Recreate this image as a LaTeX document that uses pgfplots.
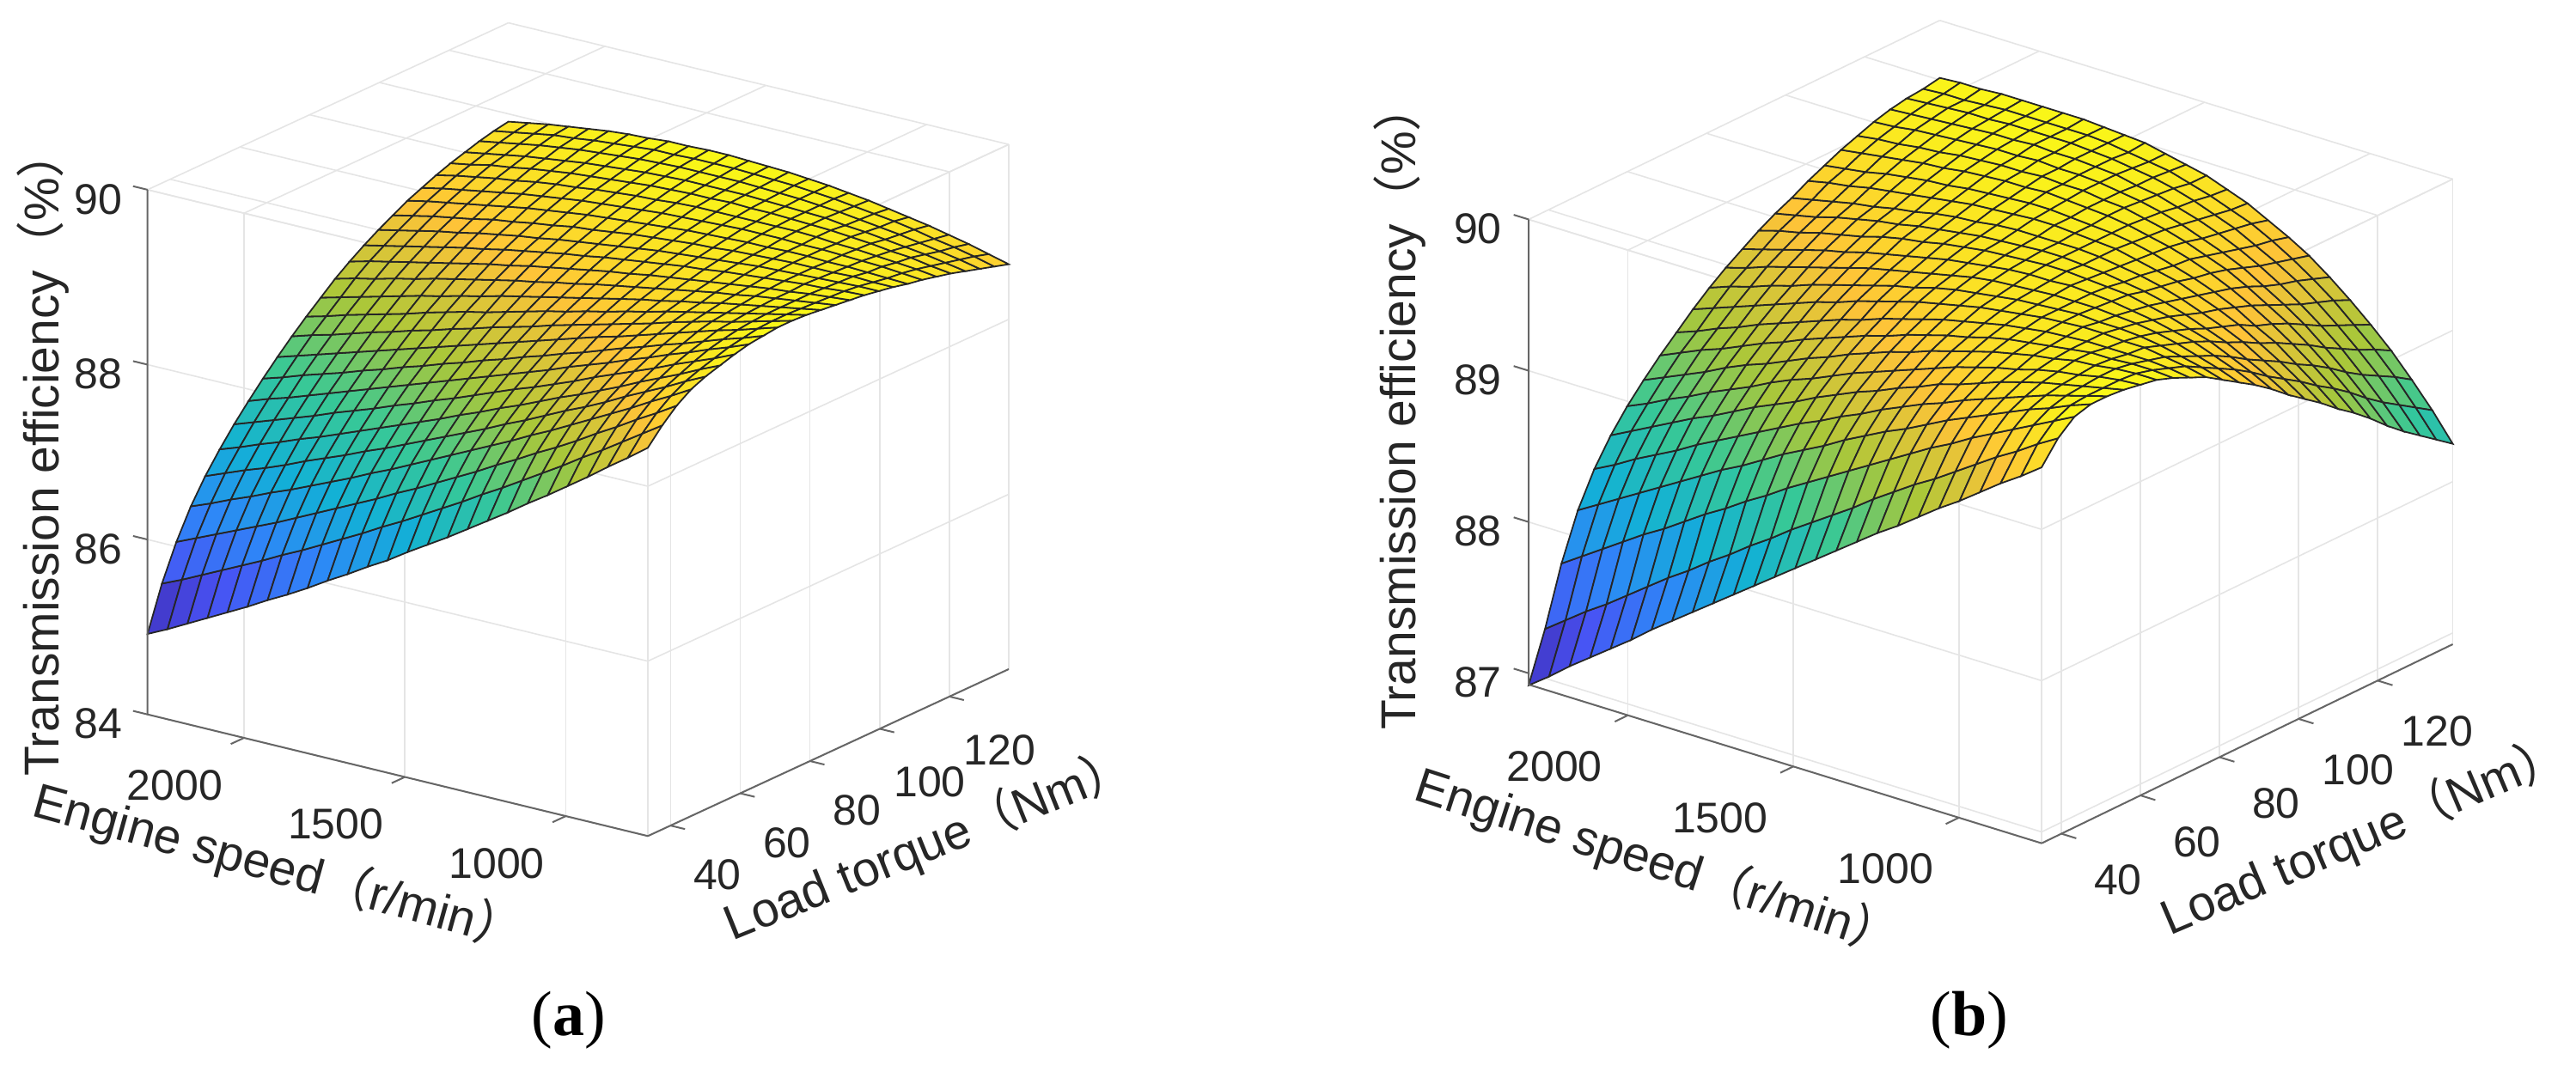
\documentclass[border=0pt]{standalone}
\usepackage{pgfplots}
\pgfplotsset{compat=1.18}
\usepackage{fontspec}
\setmainfont{Liberation Sans}
\newfontfamily\cjk{Noto Sans CJK SC}
\newfontfamily\tnr{Liberation Serif}
\tikzset{axl/.style={black!60,line width=1pt}}
\pgfplotsset{
 colormap={parulax}{rgb255=(62,38,168) rgb255=(72,82,244) rgb255=(46,135,247) rgb255=(18,177,214) rgb255=(55,200,151) rgb255=(171,199,57) rgb255=(254,195,56) rgb255=(249,251,21)},
 myax/.style={
  clip=false,
  grid=major, grid style={black!10,line width=0.8pt},
  axis line style={black!10,line width=0.8pt},
  tick style={draw=none},
  major tick length=9pt, tick align=outside,
  /pgf/number format/assume math mode=true,
  /pgf/number format/set thousands separator={},
  tick label style={font=\fontsize{25}{25}\selectfont,text=black!85},
  label style={font=\fontsize{28.5}{30}\selectfont,text=black!85},
  xtick={1000,1500,2000}, ytick={40,60,80,100,120},
  colormap name=parulax,
 },
 mysurf/.style={surf,shader=faceted,faceted color=black!85,line width=0.9pt,point meta=z},
}
\begin{document}
\begin{tikzpicture}
\path[use as bounding box] (0,0) rectangle (1499pt,620.5pt);
\begin{axis}[myax,at={(85.85pt,133.85pt)},anchor=south west,
 x={(-0.18723pt,0.04553pt)},y={(2.0290pt,0.9387pt)},z={(0pt,50.9pt)},
 xmin=745,xmax=2300,ymin=33.5,ymax=137,zmin=84,zmax=90,ztick={84,86,88,90},
 xticklabel style={xshift=-21pt,yshift=-6.5pt},
 yticklabel style={xshift=6.7pt,yshift=-11.5pt},
 zticklabel style={xshift=-3pt},
 xlabel={Engine speed{\cjk（}r/min{\cjk）}},
 ylabel={Load torque{\cjk（}Nm{\cjk）}},
 zlabel={Transmission efficiency{\cjk（}\%{\cjk）}},
 xlabel style={at={(axis description cs:0.152,-0.0388)},anchor=center,rotate=-15.5},
 ylabel style={at={(axis description cs:0.907,-0.011)},anchor=center,rotate=22},
 zlabel style={at={(axis description cs:-0.1214,0.4714)},anchor=center,rotate=0},
]
\addplot3[mysurf,mesh/rows=26,mesh/cols=26] table[header=false,x expr={2300-mod(\coordindex,26)*62.2},y expr={33.5+floor((\coordindex+0.5)/26)*4.14},z index=0]{
84.92
85.03
85.15
85.27
85.39
85.51
85.64
85.76
85.89
86.03
86.16
86.30
86.43
86.58
86.72
86.86
87.01
87.16
87.31
87.47
87.62
87.78
87.94
88.11
88.27
88.44
85.42
85.52
85.63
85.74
85.85
85.96
86.08
86.19
86.31
86.43
86.55
86.68
86.80
86.93
87.06
87.19
87.33
87.46
87.60
87.74
87.88
88.03
88.17
88.32
88.47
88.62
85.82
85.92
86.02
86.12
86.22
86.32
86.43
86.54
86.65
86.76
86.87
86.99
87.10
87.22
87.34
87.46
87.59
87.71
87.84
87.96
88.09
88.23
88.36
88.50
88.63
88.77
86.15
86.24
86.34
86.43
86.53
86.62
86.72
86.82
86.92
87.03
87.13
87.24
87.35
87.46
87.57
87.68
87.79
87.91
88.02
88.14
88.26
88.38
88.50
88.63
88.75
88.88
86.42
86.51
86.60
86.68
86.77
86.87
86.96
87.05
87.15
87.24
87.34
87.44
87.54
87.64
87.74
87.85
87.95
88.06
88.17
88.27
88.38
88.50
88.61
88.72
88.84
88.95
86.65
86.73
86.82
86.90
86.99
87.07
87.16
87.25
87.34
87.43
87.52
87.61
87.71
87.80
87.90
87.99
88.09
88.19
88.28
88.38
88.48
88.59
88.69
88.79
88.90
89.00
86.86
86.94
87.02
87.10
87.18
87.27
87.35
87.43
87.52
87.60
87.69
87.77
87.86
87.95
88.04
88.12
88.21
88.30
88.40
88.49
88.58
88.67
88.77
88.86
88.95
89.05
87.05
87.13
87.20
87.28
87.36
87.44
87.52
87.60
87.68
87.76
87.84
87.92
88.00
88.08
88.16
88.24
88.33
88.41
88.49
88.58
88.66
88.75
88.83
88.92
89.00
89.09
87.23
87.30
87.38
87.45
87.52
87.60
87.67
87.75
87.82
87.90
87.97
88.05
88.12
88.20
88.27
88.35
88.42
88.50
88.58
88.65
88.73
88.80
88.88
88.96
89.03
89.11
87.40
87.47
87.54
87.61
87.68
87.75
87.82
87.89
87.96
88.03
88.10
88.17
88.24
88.31
88.38
88.45
88.52
88.58
88.65
88.72
88.79
88.86
88.93
88.99
89.06
89.13
87.56
87.63
87.69
87.76
87.83
87.89
87.96
88.02
88.09
88.15
88.22
88.28
88.34
88.41
88.47
88.53
88.59
88.65
88.71
88.78
88.84
88.90
88.95
89.01
89.07
89.13
87.71
87.77
87.84
87.90
87.96
88.02
88.09
88.15
88.21
88.26
88.32
88.38
88.44
88.49
88.55
88.60
88.66
88.71
88.77
88.82
88.87
88.92
88.97
89.02
89.07
89.12
87.85
87.91
87.97
88.03
88.09
88.15
88.20
88.26
88.31
88.37
88.42
88.47
88.52
88.57
88.62
88.67
88.72
88.76
88.81
88.85
88.90
88.94
88.98
89.02
89.06
89.10
87.99
88.05
88.10
88.16
88.21
88.27
88.32
88.37
88.42
88.47
88.51
88.56
88.60
88.65
88.69
88.73
88.77
88.81
88.85
88.89
88.92
88.96
88.99
89.02
89.05
89.08
88.11
88.17
88.22
88.27
88.32
88.37
88.42
88.47
88.51
88.56
88.60
88.64
88.68
88.72
88.75
88.79
88.82
88.85
88.88
88.91
88.94
88.97
88.99
89.02
89.04
89.06
88.22
88.27
88.32
88.37
88.42
88.47
88.51
88.56
88.60
88.64
88.68
88.71
88.75
88.78
88.81
88.84
88.87
88.89
88.92
88.94
88.96
88.98
89.00
89.01
89.03
89.04
88.32
88.37
88.42
88.47
88.51
88.56
88.60
88.64
88.67
88.71
88.74
88.77
88.80
88.83
88.86
88.88
88.90
88.92
88.94
88.96
88.97
88.98
88.99
89.00
89.01
89.01
88.41
88.46
88.51
88.55
88.59
88.64
88.67
88.71
88.74
88.78
88.80
88.83
88.86
88.88
88.90
88.92
88.93
88.95
88.96
88.97
88.98
88.98
88.98
88.99
88.98
88.98
88.50
88.55
88.59
88.63
88.67
88.71
88.75
88.78
88.81
88.84
88.86
88.88
88.90
88.92
88.94
88.95
88.96
88.97
88.97
88.98
88.98
88.97
88.97
88.96
88.95
88.94
88.57
88.62
88.66
88.70
88.74
88.78
88.81
88.84
88.87
88.89
88.91
88.93
88.95
88.96
88.97
88.98
88.99
88.99
88.99
88.98
88.98
88.97
88.96
88.95
88.93
88.91
88.64
88.69
88.73
88.77
88.80
88.84
88.87
88.89
88.92
88.94
88.96
88.97
88.99
89.00
89.00
89.00
89.00
89.00
89.00
88.99
88.97
88.96
88.94
88.92
88.90
88.87
88.70
88.74
88.79
88.82
88.86
88.89
88.92
88.94
88.96
88.98
89.00
89.01
89.02
89.02
89.03
89.02
89.02
89.01
89.00
88.99
88.97
88.95
88.92
88.90
88.86
88.83
88.75
88.79
88.83
88.87
88.90
88.93
88.96
88.98
89.00
89.02
89.03
89.04
89.04
89.04
89.04
89.03
89.02
89.01
89.00
88.97
88.95
88.92
88.89
88.86
88.82
88.78
88.80
88.84
88.88
88.92
88.95
88.98
89.00
89.02
89.04
89.05
89.06
89.06
89.06
89.06
89.05
89.04
89.03
89.01
88.99
88.96
88.93
88.90
88.86
88.82
88.78
88.73
88.84
88.88
88.92
88.96
88.98
89.01
89.03
89.05
89.07
89.07
89.08
89.08
89.08
89.07
89.06
89.05
89.03
89.01
88.98
88.95
88.92
88.88
88.83
88.79
88.74
88.68
88.87
88.91
88.95
88.98
89.01
89.04
89.06
89.07
89.09
89.09
89.10
89.10
89.09
89.08
89.07
89.05
89.03
89.00
88.97
88.93
88.89
88.85
88.80
88.75
88.69
88.63
};
\draw[axl] (axis cs:745,33.5,84)--(axis cs:2300,33.5,84)--(axis cs:2300,33.5,90);
\draw[axl] (axis cs:745,33.5,84)--(axis cs:745,137,84);
\draw[axl] (axis cs:1000,33.5,84)--(axis cs:1000,29.7,84);
\draw[axl] (axis cs:1500,33.5,84)--(axis cs:1500,29.7,84);
\draw[axl] (axis cs:2000,33.5,84)--(axis cs:2000,29.7,84);
\draw[axl] (axis cs:745,40,84)--(axis cs:700,40,84);
\draw[axl] (axis cs:745,60,84)--(axis cs:700,60,84);
\draw[axl] (axis cs:745,80,84)--(axis cs:700,80,84);
\draw[axl] (axis cs:745,100,84)--(axis cs:700,100,84);
\draw[axl] (axis cs:745,120,84)--(axis cs:700,120,84);
\draw[axl] (axis cs:2300,33.5,84)--(axis cs:2345,33.5,84);
\draw[axl] (axis cs:2300,33.5,86)--(axis cs:2345,33.5,86);
\draw[axl] (axis cs:2300,33.5,88)--(axis cs:2345,33.5,88);
\draw[axl] (axis cs:2300,33.5,90)--(axis cs:2345,33.5,90);
\end{axis}
\begin{axis}[myax,at={(889.5pt,129.65pt)},anchor=south west,
 x={(-0.1926pt,0.05958pt)},y={(2.3005pt,1.1139pt)},z={(0pt,88.05pt)},
 xmin=750,xmax=2300,ymin=35,ymax=139,zmin=86.925,zmax=90,ztick={87,88,89,90},
 xticklabel style={xshift=-23pt,yshift=-7.5pt},
 yticklabel style={xshift=13pt,yshift=-9pt},
 zticklabel style={xshift=-4pt},
 xlabel={Engine speed{\cjk（}r/min{\cjk）}},
 ylabel={Load torque{\cjk（}Nm{\cjk）}},
 zlabel={Transmission efficiency{\cjk（}\%{\cjk）}},
 xlabel style={at={(axis description cs:0.14,-0.0233)},anchor=center,rotate=-18},
 ylabel style={at={(axis description cs:0.904,0.009)},anchor=center,rotate=23},
 zlabel style={at={(axis description cs:-0.1395,0.531)},anchor=center,rotate=0},
]
\addplot3[mysurf,mesh/rows=26,mesh/cols=26] table[header=false,x expr={2300-mod(\coordindex,26)*62},y expr={35+floor((\coordindex+0.5)/26)*4.16},z index=0]{
86.92
87.02
87.13
87.23
87.33
87.43
87.54
87.64
87.74
87.84
87.94
88.04
88.14
88.24
88.34
88.44
88.54
88.64
88.73
88.83
88.93
89.02
89.12
89.22
89.31
89.41
87.24
87.34
87.44
87.53
87.63
87.73
87.83
87.92
88.02
88.11
88.21
88.30
88.40
88.49
88.58
88.67
88.77
88.86
88.95
89.03
89.12
89.21
89.30
89.38
89.47
89.55
87.62
87.71
87.80
87.89
87.98
88.06
88.15
88.24
88.32
88.41
88.49
88.58
88.66
88.74
88.82
88.90
88.98
89.06
89.14
89.21
89.29
89.36
89.43
89.50
89.57
89.64
87.92
88.00
88.08
88.16
88.24
88.32
88.40
88.48
88.55
88.63
88.71
88.78
88.85
88.93
89.00
89.07
89.13
89.20
89.27
89.33
89.39
89.45
89.51
89.56
89.62
89.67
88.14
88.21
88.29
88.36
88.43
88.51
88.58
88.65
88.72
88.79
88.86
88.92
88.99
89.05
89.12
89.18
89.24
89.29
89.35
89.40
89.45
89.50
89.55
89.59
89.63
89.67
88.31
88.38
88.45
88.52
88.59
88.65
88.72
88.79
88.85
88.91
88.98
89.04
89.10
89.15
89.21
89.26
89.32
89.36
89.41
89.46
89.50
89.54
89.57
89.60
89.63
89.66
88.45
88.51
88.58
88.64
88.71
88.77
88.83
88.90
88.96
89.01
89.07
89.13
89.18
89.23
89.28
89.33
89.38
89.42
89.46
89.49
89.53
89.56
89.58
89.61
89.63
89.64
88.57
88.63
88.69
88.75
88.82
88.88
88.93
88.99
89.05
89.10
89.16
89.21
89.26
89.30
89.35
89.39
89.43
89.47
89.50
89.53
89.55
89.58
89.59
89.61
89.62
89.62
88.68
88.74
88.80
88.85
88.91
88.97
89.02
89.08
89.13
89.18
89.23
89.27
89.32
89.36
89.40
89.43
89.47
89.50
89.52
89.54
89.56
89.58
89.58
89.59
89.59
89.58
88.78
88.83
88.89
88.94
89.00
89.05
89.10
89.15
89.20
89.24
89.29
89.33
89.37
89.41
89.44
89.47
89.50
89.52
89.54
89.55
89.56
89.56
89.56
89.56
89.55
89.53
88.88
88.93
88.98
89.03
89.08
89.13
89.18
89.22
89.27
89.31
89.35
89.39
89.42
89.45
89.48
89.50
89.52
89.54
89.55
89.56
89.56
89.55
89.55
89.53
89.51
89.48
88.97
89.02
89.06
89.11
89.15
89.20
89.24
89.28
89.32
89.36
89.39
89.43
89.46
89.48
89.50
89.52
89.53
89.54
89.55
89.54
89.54
89.53
89.51
89.48
89.45
89.41
89.05
89.09
89.14
89.18
89.22
89.26
89.30
89.34
89.37
89.40
89.43
89.46
89.49
89.51
89.52
89.53
89.54
89.54
89.54
89.53
89.52
89.50
89.47
89.43
89.39
89.34
89.12
89.16
89.20
89.24
89.28
89.31
89.35
89.38
89.41
89.44
89.47
89.49
89.51
89.53
89.54
89.54
89.55
89.54
89.53
89.51
89.49
89.46
89.43
89.38
89.33
89.27
89.19
89.23
89.26
89.30
89.33
89.36
89.40
89.43
89.45
89.48
89.50
89.52
89.53
89.54
89.55
89.55
89.54
89.53
89.52
89.49
89.46
89.42
89.38
89.32
89.26
89.19
89.25
89.28
89.31
89.35
89.38
89.41
89.43
89.46
89.48
89.50
89.52
89.53
89.54
89.55
89.55
89.54
89.53
89.51
89.49
89.46
89.42
89.37
89.32
89.25
89.18
89.10
89.30
89.33
89.36
89.39
89.41
89.44
89.46
89.49
89.51
89.52
89.54
89.55
89.55
89.55
89.55
89.54
89.52
89.50
89.47
89.43
89.38
89.33
89.27
89.19
89.11
89.02
89.36
89.39
89.41
89.44
89.46
89.48
89.50
89.52
89.54
89.55
89.56
89.57
89.57
89.56
89.55
89.54
89.51
89.48
89.45
89.40
89.35
89.29
89.21
89.13
89.04
88.94
89.41
89.43
89.45
89.48
89.50
89.52
89.53
89.55
89.56
89.57
89.58
89.58
89.57
89.56
89.55
89.53
89.50
89.46
89.42
89.37
89.31
89.23
89.16
89.06
88.96
88.85
89.46
89.48
89.50
89.52
89.54
89.55
89.57
89.58
89.59
89.59
89.60
89.59
89.58
89.57
89.55
89.52
89.49
89.45
89.40
89.34
89.27
89.19
89.10
89.00
88.89
88.77
89.50
89.52
89.53
89.55
89.56
89.58
89.59
89.60
89.60
89.61
89.60
89.60
89.58
89.57
89.54
89.51
89.47
89.42
89.37
89.30
89.22
89.14
89.04
88.93
88.81
88.68
89.54
89.55
89.57
89.58
89.59
89.60
89.61
89.61
89.62
89.61
89.61
89.60
89.58
89.56
89.53
89.49
89.44
89.39
89.33
89.25
89.17
89.08
88.97
88.85
88.72
88.58
89.57
89.58
89.59
89.60
89.61
89.62
89.62
89.63
89.62
89.62
89.61
89.60
89.57
89.55
89.51
89.47
89.42
89.36
89.29
89.21
89.12
89.02
88.91
88.78
88.64
88.49
89.59
89.60
89.61
89.62
89.62
89.63
89.63
89.63
89.63
89.62
89.61
89.59
89.57
89.54
89.50
89.45
89.40
89.33
89.26
89.18
89.08
88.97
88.85
88.72
88.57
88.41
89.60
89.61
89.61
89.62
89.63
89.63
89.63
89.63
89.63
89.62
89.60
89.58
89.56
89.52
89.48
89.43
89.38
89.31
89.23
89.14
89.04
88.92
88.80
88.66
88.50
88.33
89.62
89.63
89.63
89.64
89.64
89.64
89.64
89.64
89.63
89.62
89.61
89.58
89.55
89.52
89.47
89.42
89.35
89.28
89.20
89.10
88.99
88.87
88.74
88.59
88.43
88.25
};
\draw[axl] (axis cs:750,35,86.925)--(axis cs:2300,35,86.925)--(axis cs:2300,35,90);
\draw[axl] (axis cs:750,35,86.925)--(axis cs:750,139,86.925);
\draw[axl] (axis cs:1000,35,86.925)--(axis cs:1000,31.7,86.925);
\draw[axl] (axis cs:1500,35,86.925)--(axis cs:1500,31.7,86.925);
\draw[axl] (axis cs:2000,35,86.925)--(axis cs:2000,31.7,86.925);
\draw[axl] (axis cs:750,40,86.925)--(axis cs:705,40,86.925);
\draw[axl] (axis cs:750,60,86.925)--(axis cs:705,60,86.925);
\draw[axl] (axis cs:750,80,86.925)--(axis cs:705,80,86.925);
\draw[axl] (axis cs:750,100,86.925)--(axis cs:705,100,86.925);
\draw[axl] (axis cs:750,120,86.925)--(axis cs:705,120,86.925);
\draw[axl] (axis cs:2300,35,87)--(axis cs:2345,35,87);
\draw[axl] (axis cs:2300,35,88)--(axis cs:2345,35,88);
\draw[axl] (axis cs:2300,35,89)--(axis cs:2345,35,89);
\draw[axl] (axis cs:2300,35,90)--(axis cs:2345,35,90);
\end{axis}
\node[font=\tnr\fontsize{37}{37}\selectfont] at (331pt,26.5pt) {(\textbf{a})};
\node[font=\tnr\fontsize{37}{37}\selectfont] at (1146pt,26.5pt) {(\textbf{b})};
\end{tikzpicture}
\end{document}
